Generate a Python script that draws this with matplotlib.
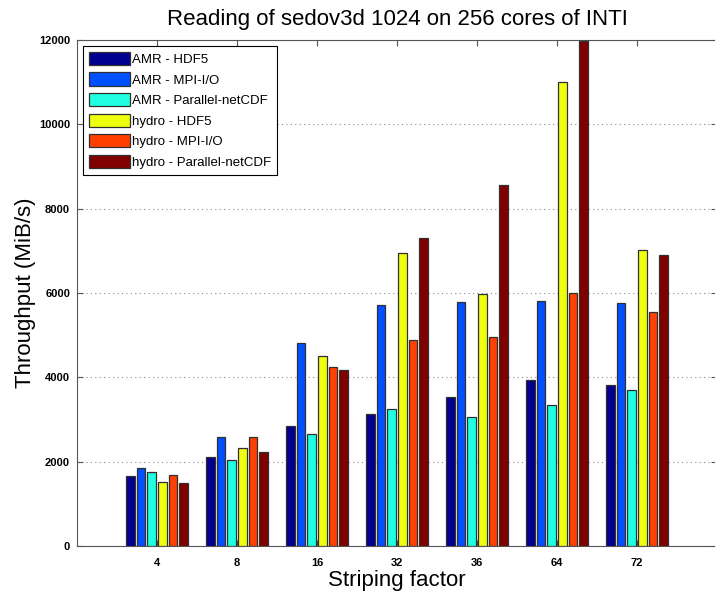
import numpy as np
import matplotlib.pyplot as plt

plt.rcParams['font.family'] = ['Liberation Sans', 'DejaVu Sans']

# striping factors (categories)
factors = ['4', '8', '16', '32', '36', '64', '72']

# throughput in MiB/s
amr_hdf5 = [1660, 2100, 2850, 3120, 3540, 3940, 3820]
amr_mpiio = [1840, 2580, 4820, 5720, 5780, 5820, 5770]
amr_pnetcdf = [1750, 2040, 2660, 3260, 3050, 3340, 3700]
hydro_hdf5 = [1510, 2330, 4510, 6960, 5980, 11000, 7030]
hydro_mpiio = [1690, 2580, 4250, 4880, 4950, 6000, 5560]
hydro_pnetcdf = [1490, 2220, 4180, 7310, 8570, 11980, 6890]

labels = ['AMR - HDF5', 'AMR - MPI-I/O', 'AMR - Parallel-netCDF',
          'hydro - HDF5', 'hydro - MPI-I/O', 'hydro - Parallel-netCDF']
colors = ['#00008F', '#0050FF', '#20FFDF', '#EFFF10', '#FF4000', '#800000']
series = [amr_hdf5, amr_mpiio, amr_pnetcdf, hydro_hdf5, hydro_mpiio, hydro_pnetcdf]

fig = plt.figure(figsize=(7.15, 5.95), dpi=100)
# right edge of the axes falls just outside the image, like the original
ax = fig.add_axes([77/715, 1-546/595, 640/715, 506/595])

x = np.arange(1, len(factors)+1)
pitch = 0.8/6
width = 0.112
for i, (vals, lab, c) in enumerate(zip(series, labels, colors)):
    ax.bar(x + (i-2.5)*pitch, vals, width, color=c, edgecolor='#303030',
           linewidth=0.9, label=lab, zorder=3)

ax.set_xlim(0, 8)
ax.set_ylim(0, 12000)
ax.set_xticks(x)
ax.set_xticklabels(factors, fontweight='bold')
ax.set_yticks(np.arange(0, 12001, 2000))
for t in ax.get_yticklabels():
    t.set_fontweight('bold')
ax.tick_params(direction='in', top=True, right=True, labelsize=8, length=4,
               color='#555555')
ax.tick_params(axis='x', pad=9)
ax.tick_params(axis='y', pad=5)
ax.yaxis.grid(True, linestyle=(0, (1, 3)), color='#888888', linewidth=0.8, zorder=0)
for s in ax.spines.values():
    s.set_color('#555555')

ax.set_title('Reading of sedov3d 1024 on 256 cores of INTI', fontsize=16, pad=11)
ax.set_xlabel('Striping factor', fontsize=16, labelpad=1)
ax.set_ylabel('Throughput (MiB/s)', fontsize=16, labelpad=2)

leg = ax.legend(loc='upper left', fontsize=9.5, handlelength=3.1, handleheight=1.15,
                labelspacing=0.5, handletextpad=0.2, borderaxespad=0.45,
                borderpad=0.45, fancybox=False, edgecolor='black', framealpha=1)
leg.get_frame().set_linewidth(0.8)

fig.savefig('out.png', dpi=100)
